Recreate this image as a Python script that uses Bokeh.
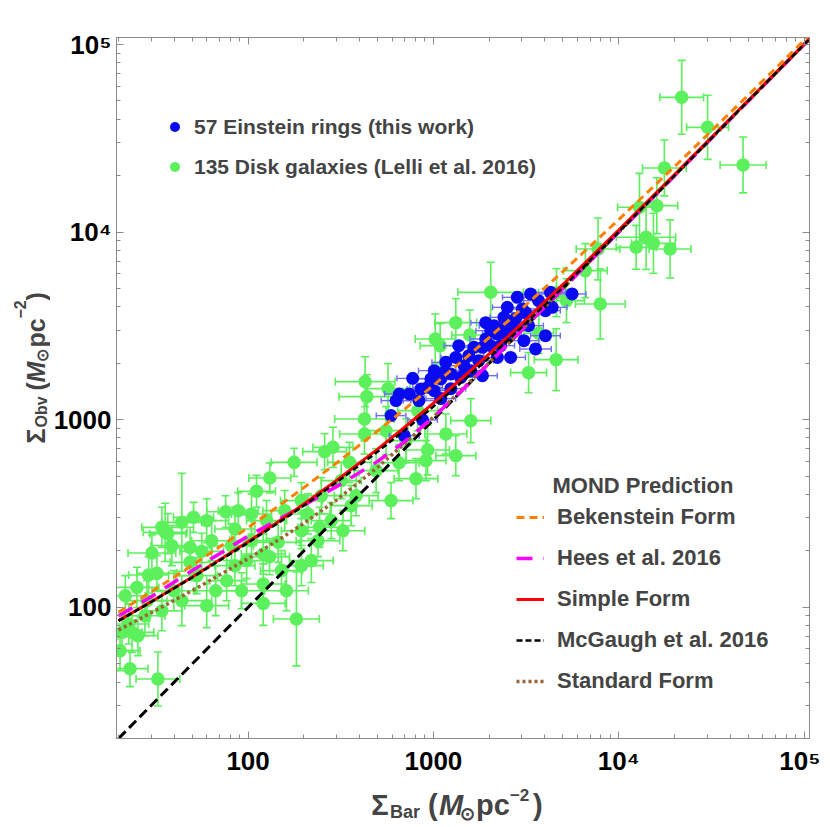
import math
from bokeh.plotting import figure
from bokeh.layouts import gridplot
from bokeh.models import (FixedTicker, LogAxis, Label, Legend, LegendItem, Range1d,
                          CustomJSTickFormatter)
from bokeh.embed import file_html
from bokeh.resources import INLINE

# ---------------- data ----------------
# Disk galaxies (Lelli et al. 2016): Sigma_bar, Sigma_obs in Msun/pc^2, errors in dex
disk_sbar = [21870, 30170, 46880, 17630, 16050, 12940, 14050, 15390, 12420, 18920,
             7732, 7953, 4596, 3705, 4613, 2038, 1023, 1088, 1571, 428.2,
             437.4, 424.6, 424.6, 1167, 930.6, 822.6, 258.8, 287.1, 352.6, 177.2,
             131.0, 111.1, 75.68, 88.58, 50.77, 43.9, 35.7, 34.27, 30.28, 48.66,
             56.23, 48.66, 29.07, 32.22, 25.15, 21.76, 43.9, 66.88, 76.63, 84.92,
             84.92, 104.4, 120.7, 130.5, 145.3, 157.7, 210.7, 243.2, 238.5, 325.0,
             120.7, 120.7, 182.3, 23.64, 25.46, 20.89, 22.69, 32.62, 36.91, 652.5,
             805.3, 1321, 1591, 590.9, 318.3, 383.0, 5221, 569.3, 98.15, 39.77,
             59.82, 27.77, 63.65, 194.0, 161.1, 248.5, 194.0, 3262, 6604, 20.38, 23.07,
             38.8, 59.82, 28.47, 92.3, 151.4, 219.5, 281.2, 360.2, 490.8, 911.3,
             555.4, 194.0, 125.8, 81.5, 52.87, 34.27, 104.4, 711.5, 1321]
disk_sobs = [52300, 36190, 22810, 21990, 13840, 13560, 9383, 8716, 8299, 8137,
             8137, 4142, 2091, 2888, 4759, 4777, 2696, 2483, 2831, 1596,
             1328, 1010, 840.2, 840.2, 690.2, 1118, 676.0, 712.8, 592.8, 592.8,
             489.6, 415.3, 323.6, 327.8, 301.8, 283.9, 251.1, 267.0, 195.0, 208.8,
             198.9, 173.8, 148.8, 151.8, 127.8, 115.4, 108.6, 122.7, 138.8, 166.9,
             261.8, 314.8, 192.6, 186.3, 222.1, 327.8, 314.8, 267.0, 226.7, 256.3,
             133.3, 105.0, 86.75, 73.57, 70.65, 73.57, 81.54, 41.52, 247.1, 590.6,
             485.3, 643.7, 989.0, 370.7, 473.8, 393.9, 4313, 1465, 177.4, 122.7,
             102.1, 90.3, 226.7, 166.9, 122.7, 393.9, 256.3, 1783, 6235, 58.8, 47.13,
             213.3, 289.9, 108.6, 122.7, 157.0, 177.5, 290.0, 348.4, 535.7, 605.6,
             874.8, 370.7, 290.0, 213.3, 147.6, 96.0, 226.9, 774.0, 3293]
disk_sbar_err = [.118, .113, .124, .118, .113, .118, .16, .118, .108, .113,
                 .118, .134, .118, .08, .097, .177, .108, .108, .097, .161,
                 .15, .161, .134, .113, .118, .108, .118, .108, .118, .124,
                 .113, .102, .102, .108, .108, .108, .118, .108, .129, .118,
                 .118, .108, .108, .108, .118, .108, .161, .118, .108, .108,
                 .108, .108, .118, .108, .118, .118, .118, .118, .118, .118,
                 .118, .118, .124, .118, .108, .108, .108, .118, .097, .108,
                 .118, .108, .108, .118, .108, .118, .097, .118, .108, .118,
                 .118, .108, .108, .118, .118, .108, .108, .097, .118, .108, .097,
                 .113, .118, .108, .118, .113, .118, .108, .113, .118, .108,
                 .118, .113, .108, .118, .113, .108, .118, .108, .113]
disk_sobs_err = [.197, .171, .149, .149, .149, .181, .171, .16, .117, .155,
                 .165, .187, .165, .107, .128, .16, .133, .117, .133, .133,
                 .117, .117, .107, .107, .133, .107, .096, .107, .107, .075,
                 .08, .085, .085, .096, .08, .261, .155, .107, .096, .107,
                 .096, .096, .096, .096, .107, .107, .133, .133, .107, .107,
                 .117, .107, .107, .096, .107, .107, .107, .107, .085, .107,
                 .107, .117, .25, .107, .107, .107, .107, .144, .107, .096,
                 .107, .107, .117, .096, .096, .107, .117, .133, .096, .107,
                 .117, .107, .107, .107, .107, .096, .096, .107, .144, .107, .096,
                 .107, .117, .107, .096, .107, .117, .096, .107, .117, .107,
                 .128, .096, .107, .117, .096, .107, .107, .117, .128]

# Einstein rings (this work)
ring_sbar = [2836, 3343, 4282, 5603, 2506, 3018, 4025, 4374, 2402, 2123,
             2355, 2666, 2038, 2214, 2506, 3078, 1915, 1839, 1657, 2038,
             3557, 2610, 1321, 1167, 1464, 1591, 1010, 1143, 1242, 1406,
             969.6, 773.2, 1097, 1839, 930.6, 856.6, 655.0, 741.3, 1010, 590.9,
             874.8, 696.6, 2214, 3692, 2777, 3262, 4025, 1756, 2306, 1371,
             1552, 835.6, 1242, 628.6, 1097, 3143, 1915]
ring_sobs = [4492, 4684, 4777, 4684, 3972, 3895, 3816, 3972, 3514, 3174,
             3048, 3108, 2985, 2866, 2807, 2640, 2696, 2431, 2431, 2483,
             2385, 2150, 2150, 2023, 1943, 1827, 1827, 1789, 1754, 1683,
             1650, 1662, 1650, 1718, 1488, 1459, 1372, 1372, 1429, 1052,
             997.5, 822.9, 2150, 4313, 3459, 3174, 2807, 2065, 2483, 2483,
             2196, 1265, 1465, 1265, 1296, 3724, 3293]
ring_sbar_err = [.08, .085, .08, .075, .08, .085, .08, .08, .075, .08,
                 .08, .085, .08, .08, .075, .08, .085, .08, .08, .08,
                 .085, .08, .08, .075, .08, .08, .085, .08, .08, .075,
                 .08, .085, .08, .08, .08, .075, .08, .08, .085, .08,
                 .08, .08, .075, .08, .085, .08, .08, .08, .075, .08,
                 .08, .085, .08, .08, .08, .075, .08]
ring_sobs_err = [.02, .02, .018, .02, .022, .02, .02, .018, .02, .02,
                 .02, .022, .02, .02, .018, .02, .02, .022, .02, .02,
                 .02, .018, .02, .02, .022, .02, .02, .02, .018, .02,
                 .02, .02, .022, .02, .02, .02, .018, .02, .02, .022,
                 .02, .02, .02, .018, .02, .02, .022, .02, .02, .02,
                 .018, .02, .02, .022, .02, .02, .02]

# MOND prediction curves
curve_sbar = [20, 30, 50, 100, 150, 200, 300, 500, 700, 1000, 1500, 2000, 3000,
              5000, 10000, 20000, 50000, 110000]
bekenstein = [94.3, 121.0, 167.5, 266.1, 353.5, 434.9, 587.7, 871.5, 1139.5, 1525.4,
              2143.4, 2743, 3910, 6175, 11661, 22349, 53715, 115510]
hees = [90, 114, 157, 240, 298, 350, 440, 600, 765, 1032, 1506, 2002, 3000,
        5000, 10000, 20000, 50000, 110000]
simple = [85.0, 107.2, 145.1, 223.5, 291.9, 355.3, 474.5, 697.8, 911.9, 1225,
          1738, 2246, 3254, 5262, 10269, 20272, 50275, 110276]
mcgaugh = [84.7, 106.8, 144.3, 221.0, 287.6, 349.0, 463.3, 676, 878.7, 1175,
           1661, 2145, 3115, 5072, 10024, 20004, 50000, 110000]
standard = [75.7, 93.5, 122.9, 181.8, 232.7, 280.6, 373.2, 557.8, 746.3, 1034.9,
            1524.4, 2018.6, 3012.7, 5007.6, 10003.8, 20001.9, 50000.8, 110000.3]
newton_sbar = [20, 110000]
newton_sobs = [20, 110000]

major_ticks = [100, 1000, 10000, 100000]
minor_ticks = [m * 10 ** k for k in range(1, 5) for m in range(2, 10)]

# ---------------- styling / layout (page pixels) ----------------
GREEN = "#5CF05C"
BLUE = "#0A0AF0"
BLUE_ERR = "#6F6FF5"
GRAY = "#8A8A8A"
FONT = "Liberation Sans"

LEFT_W = 50          # strip with the y title
MAIN_W = 770
MAIN_H = 780
BOTTOM_H = 46        # strip with the x title
F_LEFT, F_RIGHT, F_TOP, F_BOTTOM = 115, 809, 37, 738   # frame edges on the page
B_LEFT = F_LEFT - LEFT_W
B_RIGHT = LEFT_W + MAIN_W - F_RIGHT
B_TOP = F_TOP
B_BOTTOM = MAIN_H - F_BOTTOM

p = figure(width=MAIN_W, height=MAIN_H, x_axis_type="log", y_axis_type="log",
           x_range=Range1d(19.5, 1.07e5), y_range=Range1d(20.0, 1.09e5),
           output_backend="svg", toolbar_location=None,
           min_border_left=B_LEFT, min_border_right=B_RIGHT, min_border_top=B_TOP,
           min_border_bottom=B_BOTTOM)
p.grid.visible = False
p.outline_line_color = GRAY
p.background_fill_color = "white"
p.border_fill_color = "white"

fmt = CustomJSTickFormatter(code="""
const e = Math.round(Math.log10(tick));
if (e >= 4) { return "10" + ["\u2070","\u00b9","\u00b2","\u00b3","\u2074","\u2075","\u2076"][e]; }
return String(Math.round(tick));
""")


def style_axis(ax):
    ax.ticker = FixedTicker(ticks=major_ticks, minor_ticks=minor_ticks)
    ax.axis_line_color = GRAY
    ax.major_tick_line_color = GRAY
    ax.minor_tick_line_color = GRAY
    ax.major_tick_in = 7
    ax.major_tick_out = 0
    ax.minor_tick_in = 4
    ax.minor_tick_out = 0
    ax.major_label_text_font = FONT
    ax.major_label_text_font_style = "bold"
    ax.major_label_text_font_size = "26px"
    ax.major_label_text_color = "black"


style_axis(p.xaxis[0])
style_axis(p.yaxis[0])
p.xaxis[0].formatter = fmt
p.yaxis[0].formatter = fmt
p.xaxis[0].major_label_standoff = 7
p.yaxis[0].major_label_standoff = 5

blank = CustomJSTickFormatter(code="return '';")
for side in ("right", "above"):
    ax = LogAxis(formatter=blank)
    style_axis(ax)
    ax.major_label_text_font_size = "1px"
    ax.major_label_standoff = 0
    p.add_layout(ax, side)


def draw_errors(xs, ys, exd, eyd, color, width, cap):
    xlo = [x * 10 ** (-e) for x, e in zip(xs, exd)]
    xhi = [x * 10 ** e for x, e in zip(xs, exd)]
    ylo = [y * 10 ** (-e) for y, e in zip(ys, eyd)]
    yhi = [y * 10 ** e for y, e in zip(ys, eyd)]
    p.segment(x0=xlo, y0=ys, x1=xhi, y1=ys, line_color=color, line_width=width)
    p.segment(x0=xs, y0=ylo, x1=xs, y1=yhi, line_color=color, line_width=width)
    p.scatter(x=xlo + xhi, y=list(ys) + list(ys), marker="dash", angle=math.pi / 2,
              size=cap, line_color=color, line_width=width)
    p.scatter(x=list(xs) + list(xs), y=ylo + yhi, marker="dash",
              size=cap, line_color=color, line_width=width)


draw_errors(disk_sbar, disk_sobs, disk_sbar_err, disk_sobs_err, GREEN, 1.6, 8)
r_green = p.scatter(x=disk_sbar, y=disk_sobs, size=13.5, fill_color=GREEN,
                    line_color=None)
draw_errors(ring_sbar, ring_sobs, ring_sbar_err, ring_sobs_err, BLUE_ERR, 1.4, 6)
r_blue = p.scatter(x=ring_sbar, y=ring_sobs, size=13, fill_color=BLUE,
                   line_color=None)

# curves
p.line(newton_sbar, newton_sobs, line_color="black", line_width=3, line_dash="10 5")
r_std = p.line(curve_sbar, standard, line_color="#996633", line_width=3.5, line_dash="3 3")
r_hees = p.line(curve_sbar, hees, line_color="#FF00FF", line_width=3.5, line_dash="16 11")
r_simple = p.line(curve_sbar, simple, line_color="#FF0000", line_width=3)
r_mcg = p.line(curve_sbar, mcgaugh, line_color="black", line_width=2.5, line_dash="6 3")
r_bek = p.line(curve_sbar, bekenstein, line_color="#FF8000", line_width=3, line_dash="8 5")

# legends
leg1 = Legend(items=[LegendItem(label="57 Einstein rings (this work)", renderers=[r_blue]),
                     LegendItem(label="135 Disk galaxies (Lelli et al. 2016)", renderers=[r_green])],
              location=(46, 559), orientation="vertical",
              glyph_width=25, glyph_height=25, label_height=25, spacing=15,
              label_standoff=7, padding=0, margin=0,
              border_line_alpha=0, background_fill_alpha=0,
              label_text_font=FONT, label_text_font_style="bold",
              label_text_font_size="21px")
p.add_layout(leg1)

leg2 = Legend(items=[LegendItem(label="Bekenstein Form", renderers=[r_bek]),
                     LegendItem(label="Hees et al. 2016", renderers=[r_hees]),
                     LegendItem(label="Simple Form", renderers=[r_simple]),
                     LegendItem(label="McGaugh et al. 2016", renderers=[r_mcg]),
                     LegendItem(label="Standard Form", renderers=[r_std])],
              location=(400, 44), orientation="vertical",
              glyph_width=28, glyph_height=22, label_height=22, spacing=15,
              label_standoff=13, padding=0, margin=0,
              border_line_alpha=0, background_fill_alpha=0,
              label_text_font=FONT, label_text_font_style="bold",
              label_text_font_size="22px")
p.add_layout(leg2)

p.add_layout(Label(x=436, y=253, x_units="screen", y_units="screen",
                   text="MOND Prediction", text_font=FONT, text_font_style="bold",
                   text_font_size="22px", text_baseline="middle"))


# ---------------- axis titles in their own strips ----------------
def strip(width, height, xr, yr, bl, br, bt, bb):
    f = figure(width=width, height=height, x_range=Range1d(*xr), y_range=Range1d(*yr),
               output_backend="svg", toolbar_location=None,
               x_axis_location=None, y_axis_location=None,
               min_border_left=bl, min_border_right=br,
               min_border_top=bt, min_border_bottom=bb)
    f.grid.visible = False
    f.outline_line_color = None
    f.background_fill_color = "white"
    f.border_fill_color = "white"
    return f


def piece(fig, x, y, text, size, style="bold", angle=0):
    fig.add_layout(Label(x=x, y=y, text=text, text_font=FONT, text_font_style=style,
                         text_font_size=f"{size}px", text_baseline="alphabetic",
                         text_align="left", angle=angle, angle_units="deg"))


# x title strip: same left/right borders as the main plot
xt = strip(MAIN_W, BOTTOM_H, (F_LEFT, F_RIGHT), (MAIN_H + BOTTOM_H, MAIN_H),
           B_LEFT, B_RIGHT, 0, 0)
x0 = 370
bl = 804
piece(xt, x0, bl, "\u03a3", 29)
piece(xt, x0 + 19, bl + 7, "Bar", 18)
piece(xt, x0 + 57, bl, "(", 29)
piece(xt, x0 + 68, bl, "M", 29, "bold italic")
piece(xt, x0 + 89, bl + 9, "\u2299", 18)
piece(xt, x0 + 105, bl, "pc", 29)
piece(xt, x0 + 139, bl - 10, "\u22122", 17)
piece(xt, x0 + 162, bl, ")", 29)

# y title strip: same top/bottom borders as the main plot
yt = strip(LEFT_W, MAIN_H, (0, LEFT_W), (F_BOTTOM, F_TOP), 0, 0, B_TOP, B_BOTTOM)
bx = 35
piece(yt, bx, 443, "\u03a3", 25, angle=90)
piece(yt, bx + 6, 427, "Obv", 16, angle=90)
piece(yt, bx, 390, "(", 25, angle=90)
piece(yt, bx, 382, "M", 25, "bold italic", angle=90)
piece(yt, bx + 7, 361, "\u2299", 16, angle=90)
piece(yt, bx, 347, "pc", 25, angle=90)
piece(yt, bx - 16, 318, "\u22122", 16, angle=90)
piece(yt, bx, 300, ")", 25, angle=90)

grid = gridplot([[yt, p], [None, xt]], toolbar_location=None)
open("out.html", "w", encoding="utf-8").write(file_html(grid, INLINE))
